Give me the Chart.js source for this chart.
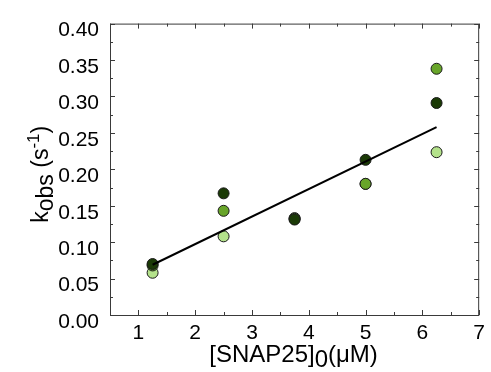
<!DOCTYPE html>
<html>
<head>
<meta charset="utf-8">
<script src="https://cdn.jsdelivr.net/npm/chart.js@4"></script>
<style>
html,body{margin:0;padding:0;background:#fff;}
#wrap{width:491px;height:372px;position:relative;}
</style>
</head>
<body>
<div id="wrap"><canvas id="c" width="491" height="372"></canvas></div>
<script>
const concentrations = [1.25, 2.5, 3.75, 5, 6.25];
const kobsDark = [0.070, 0.167, 0.131, 0.213, 0.291];
const kobsMedium = [0.068, 0.143, 0.132, 0.180, 0.338];
const kobsLight = [0.058, 0.108, 0.133, 0.180, 0.2235];
const fitX = [1.25, 6.25];
const fitY = [0.069, 0.258];
const xTicks = [1, 2, 3, 4, 5, 6, 7];
const yTicks = [0.00, 0.05, 0.10, 0.15, 0.20, 0.25, 0.30, 0.35, 0.40];

const FONT = "'Liberation Sans', Arial, sans-serif";
const pts = (xs, ys) => xs.map((x, i) => ({x: x, y: ys[i]}));

const framePlugin = {
  id: 'frame',
  afterDraw(chart) {
    const ctx = chart.ctx;
    const a = chart.chartArea;
    const xs = chart.scales.x, ys = chart.scales.y;
    ctx.save();
    ctx.strokeStyle = '#3a3a3a';
    ctx.lineWidth = 1;
    ctx.strokeRect(a.left + 0.5, a.top + 0.5, a.right - a.left - 1, a.bottom - a.top);
    ctx.beginPath();
    for (let v = 0.5; v <= 7.001; v += 0.5) {
      const px = Math.round(xs.getPixelForValue(v)) + 0.5;
      const len = Number.isInteger(v) ? 5 : 3;
      ctx.moveTo(px, a.bottom); ctx.lineTo(px, a.bottom - len);
      ctx.moveTo(px, a.top); ctx.lineTo(px, a.top + len);
    }
    for (let k = 0; k <= 16; k++) {
      const v = k * 0.025;
      const py = Math.round(ys.getPixelForValue(v)) + 0.5;
      const len = (k % 2 === 0) ? 5 : 3;
      ctx.moveTo(a.left, py); ctx.lineTo(a.left + len, py);
      ctx.moveTo(a.right, py); ctx.lineTo(a.right - len, py);
    }
    ctx.stroke();

    ctx.fillStyle = '#000';
    ctx.textBaseline = 'alphabetic';
    const parts = [
      {t: '[SNAP25]', s: 24, dy: 0},
      {t: '0', s: 24, dy: 5},
      {t: '(\u03bcM)', s: 24, dy: 0}
    ];
    let w = 0;
    parts.forEach(p => { ctx.font = p.s + 'px ' + FONT; p.w = ctx.measureText(p.t).width; w += p.w; });
    let x = (a.left + a.right) / 2 - w / 2 - 1;
    const base = 362;
    parts.forEach(p => { ctx.font = p.s + 'px ' + FONT; ctx.fillText(p.t, x, base + p.dy); x += p.w; });

    ctx.save();
    ctx.translate(48, (a.top + a.bottom) / 2 + 5);
    ctx.rotate(-Math.PI / 2);
    const yparts = [
      {t: 'k', s: 23, dy: 0},
      {t: 'obs', s: 23, dy: 5},
      {t: ' (s', s: 23, dy: 0},
      {t: '-1', s: 17, dy: -9},
      {t: ')', s: 23, dy: 0}
    ];
    w = 0;
    yparts.forEach(p => { ctx.font = p.s + 'px ' + FONT; p.w = ctx.measureText(p.t).width; w += p.w; });
    x = -w / 2;
    yparts.forEach(p => { ctx.font = p.s + 'px ' + FONT; ctx.fillText(p.t, x, p.dy); x += p.w; });
    ctx.restore();
    ctx.restore();
  }
};

const pointStyle = (color, order) => ({
  type: 'scatter',
  backgroundColor: color,
  borderColor: '#1a1a1a',
  borderWidth: 1,
  pointRadius: 5.5,
  pointHoverRadius: 5.5,
  order: order
});

new Chart(document.getElementById('c'), {
  type: 'scatter',
  data: {
    datasets: [
      Object.assign({label: 'fit', type: 'line', data: pts(fitX, fitY), borderColor: '#000', borderWidth: 2, pointRadius: 0, showLine: true, fill: false, order: 0}),
      Object.assign({label: 'dark', data: pts(concentrations, kobsDark)}, pointStyle('#1b3a06', 1)),
      Object.assign({label: 'medium', data: pts(concentrations, kobsMedium)}, pointStyle('#68a52a', 2)),
      Object.assign({label: 'light', data: pts(concentrations, kobsLight)}, pointStyle('#b4e28b', 3))
    ]
  },
  options: {
    responsive: false,
    animation: false,
    devicePixelRatio: 1,
    layout: {padding: {top: 14, right: 5, left: 0, bottom: 0}},
    plugins: {legend: {display: false}, tooltip: {enabled: false}},
    scales: {
      x: {
        type: 'linear', min: 0.5, max: 7,
        afterFit(s) { s.height = 57; },
        afterBuildTicks(s) { s.ticks = xTicks.map(v => ({value: v})); },
        grid: {display: false, drawTicks: false},
        border: {display: false},
        ticks: {padding: 6, color: '#000', font: {family: FONT, size: 21}, callback: v => String(v)}
      },
      y: {
        type: 'linear', min: 0, max: 0.4,
        afterFit(s) { s.width = 110; },
        afterBuildTicks(s) { s.ticks = yTicks.map(v => ({value: v})); },
        grid: {display: false, drawTicks: false},
        border: {display: false},
        ticks: {padding: 11, labelOffset: 7, color: '#000', font: {family: FONT, size: 21}, callback: v => Number(v).toFixed(2)}
      }
    }
  },
  plugins: [framePlugin]
});
</script>
</body>
</html>
